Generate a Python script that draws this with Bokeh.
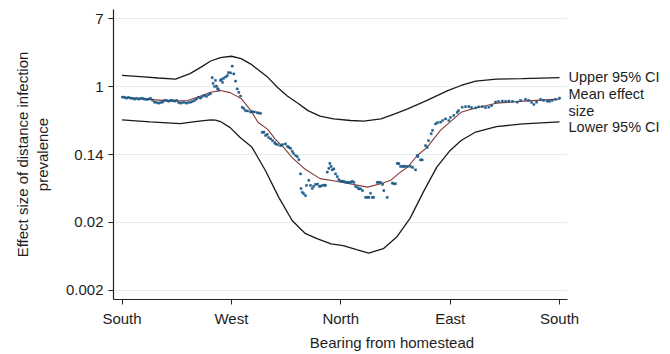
from bokeh.plotting import figure
from bokeh.models import Range1d, FixedTicker, Label
from bokeh.embed import file_html
from bokeh.resources import INLINE

# Bearing from homestead in degrees (0 = South, 90 = West, 180 = North, 270 = East, 360 = South)
bearing_ticks = [0, 90, 180, 270, 360]
bearing_labels = ["South", "West", "North", "East", "South"]

# y axis: natural log of effect size; tick labels show exp(value)
log_ticks = [-6, -4, -2, 0, 2]
log_labels = ["0.002", "0.02", "0.14", "1", "7"]

# Upper 95% CI (log effect size)
upper_bearing = [0, 15, 30, 44, 56, 65, 73, 81, 90, 98, 106, 112, 120, 128, 136, 145, 153,
                 163, 174, 188, 199, 213, 224, 235, 251, 268, 279, 291, 308, 329, 360]
upper_log = [0.33, 0.29, 0.25, 0.22, 0.38, 0.57, 0.75, 0.85, 0.89, 0.82, 0.66, 0.49, 0.27,
             -0.03, -0.28, -0.50, -0.71, -0.87, -0.95, -1.00, -1.02, -0.95, -0.81, -0.66,
             -0.41, -0.12, 0.03, 0.16, 0.22, 0.23, 0.26]

# Mean effect size (log)
mean_bearing = [0, 19, 42, 54, 65, 73, 81, 89, 98, 106, 112, 120, 126, 133, 140, 147,
                151, 163, 174, 184, 202, 213, 221, 229, 235, 243, 251, 262, 279, 291,
                308, 330, 360]
mean_log = [-0.31, -0.37, -0.43, -0.41, -0.28, -0.17, -0.12, -0.18, -0.35, -0.71, -1.06,
            -1.26, -1.55, -1.79, -2.09, -2.32, -2.44, -2.71, -2.77, -2.84, -2.96, -2.86,
            -2.76, -2.52, -2.37, -2.03, -1.79, -1.29, -0.76, -0.63, -0.49, -0.43, -0.37]

# Lower 95% CI (log)
lower_bearing = [0, 23, 48, 60, 73, 77, 81, 89, 97, 107, 118, 129, 140, 147, 151, 161, 172,
                 182, 193, 203, 215, 226, 237, 248, 259, 270, 279, 291, 308, 330, 360]
lower_log = [-0.98, -1.04, -1.09, -1.03, -0.98, -0.99, -1.03, -1.21, -1.49, -1.79, -2.47,
             -3.26, -3.94, -4.19, -4.33, -4.48, -4.63, -4.68, -4.80, -4.90, -4.77, -4.43,
             -3.88, -3.10, -2.37, -1.88, -1.59, -1.34, -1.18, -1.10, -1.04]

# Observed effect sizes (log)
obs_bearing = [0.4, 2.1, 3.7, 5.3, 7.0, 8.6, 10.3, 11.9, 13.6, 15.2, 16.9, 18.5, 20.2, 21.8,
               23.5, 25.1, 26.7, 28.4, 30.0, 31.7, 33.3, 35.0, 36.6, 38.3, 39.9, 41.5, 43.2,
               44.8, 46.5, 48.1, 49.8, 51.4, 53.1, 54.7, 56.4, 58.0, 59.7, 61.3, 62.9, 64.6,
               66.2, 67.9, 69.5, 71.2, 72.8, 74.2, 74.9, 76.1, 76.9, 77.8, 78.6, 79.4, 81.0,
               81.9, 82.7, 83.5, 85.2, 86.6, 87.6, 89.3, 90.7, 92.0, 93.4, 94.8, 96.1, 97.5,
               98.9, 100.2, 101.6, 103.3, 105.7, 107.4, 109.0, 111.3, 112.3, 114.0, 115.4,
               116.7, 118.1, 119.5, 120.6, 122.3, 123.9, 125.6, 126.4, 128.0, 130.4, 132.1,
               134.5, 136.2, 137.3, 138.7, 140.1, 141.1, 142.8, 144.2, 145.5, 146.9, 147.3,
               148.3, 149.4, 151.0, 151.8, 153.7, 155.1, 156.5, 157.6, 159.2, 160.9, 162.5,
               163.3, 165.0, 166.6, 167.4, 168.9, 170.2, 171.0, 172.0, 173.0, 174.3, 175.7,
               177.1, 178.4, 179.8, 181.2, 182.3, 183.9, 185.3, 186.6, 188.0, 189.4, 190.8,
               192.2, 193.8, 194.9, 196.3, 197.9, 200.4, 201.8, 203.1, 204.5, 205.9, 207.0,
               210.0, 211.3, 212.7, 214.4, 215.4, 218.2, 222.4, 223.7, 225.1, 226.5, 227.8,
               229.2, 230.8, 231.9, 233.3, 234.9, 237.4, 239.1, 241.5, 242.9, 243.4, 245.6,
               247.0, 249.7, 251.1, 252.2, 254.4, 255.5, 258.0, 259.6, 262.1, 263.8, 266.2,
               268.9, 270.3, 273.0, 275.8, 276.9, 279.9, 282.7, 285.4, 287.6, 290.9, 293.4,
               296.4, 299.1, 301.8, 304.1, 307.3, 309.8, 312.9, 315.6, 318.3, 321.3, 325.2,
               327.9, 332.0, 334.5, 337.0, 338.9, 341.1, 344.4, 346.9, 349.9, 351.8, 354.0,
               356.7, 360.0]
obs_log = [-0.31, -0.32, -0.34, -0.32, -0.34, -0.35, -0.37, -0.35, -0.37, -0.35, -0.35, -0.37,
           -0.38, -0.37, -0.35, -0.40, -0.46, -0.47, -0.49, -0.47, -0.46, -0.41, -0.41, -0.43,
           -0.41, -0.41, -0.43, -0.41, -0.47, -0.49, -0.47, -0.47, -0.49, -0.47, -0.46, -0.44,
           -0.41, -0.37, -0.32, -0.34, -0.29, -0.26, -0.29, -0.24, -0.21, 0.26, 0.09, 0.00,
           0.18, 0.01, -0.06, -0.09, 0.18, 0.21, 0.12, 0.24, 0.28, 0.32, 0.41, 0.40, 0.60,
           0.37, 0.16, -0.07, -0.17, -0.28, -0.61, -0.65, -0.71, -0.72, -0.75, -0.74, -0.75,
           -0.77, -0.78, -0.79, -1.35, -1.34, -1.44, -1.41, -1.50, -1.54, -1.59, -1.65, -1.69,
           -1.71, -1.74, -1.71, -1.69, -1.76, -1.79, -1.82, -1.91, -1.97, -2.03, -2.06, -2.15,
           -2.57, -3.00, -3.11, -3.15, -3.21, -2.91, -2.76, -2.91, -3.00, -2.94, -2.88, -2.87,
           -2.94, -2.93, -2.91, -2.90, -2.91, -2.52, -2.41, -2.26, -2.35, -2.45, -2.42, -2.57,
           -2.65, -2.74, -2.78, -2.79, -2.79, -2.81, -2.82, -2.82, -2.82, -2.79, -2.82, -2.94,
           -2.97, -3.01, -3.01, -3.06, -3.26, -3.26, -3.26, -3.14, -3.26, -3.26, -2.82, -2.82,
           -2.82, -2.88, -3.06, -3.26, -2.84, -2.86, -2.86, -2.26, -2.27, -2.35, -2.35, -2.35,
           -2.35, -2.35, -2.35, -2.38, -2.45, -2.03, -2.06, -2.16, -2.16, -1.74, -1.79, -1.59,
           -1.39, -1.29, -1.10, -1.06, -1.05, -1.00, -0.95, -1.00, -0.91, -0.85, -0.76, -0.71,
           -0.61, -0.59, -0.59, -0.62, -0.63, -0.60, -0.59, -0.62, -0.61, -0.56, -0.46, -0.44,
           -0.43, -0.44, -0.43, -0.44, -0.46, -0.41, -0.38, -0.41, -0.47, -0.53, -0.46, -0.38,
           -0.41, -0.43, -0.44, -0.41, -0.38, -0.34]

FONT = "Liberation Sans"
TXT = "#1e1e1e"

X_START, X_AXIS_END, X_FRAME_END = -7.0, 366.6, 451.3
Y_START, Y_END = -6.265, 2.265

p = figure(width=670, height=354,
           x_range=Range1d(X_START, X_FRAME_END), y_range=Range1d(Y_START, Y_END),
           output_backend="svg", toolbar_location=None,
           min_border_left=113, min_border_right=0,
           min_border_top=9, min_border_bottom=55)
p.outline_line_color = None
p.background_fill_color = "white"
p.border_fill_color = "white"
p.xgrid.grid_line_color = None
p.ygrid.grid_line_color = None

# horizontal grid lines at the y ticks, spanning the axis extent
p.segment(x0=[X_START] * len(log_ticks), y0=log_ticks,
          x1=[X_AXIS_END] * len(log_ticks), y1=log_ticks,
          line_color="#e4efef", line_width=1)

p.xaxis.ticker = FixedTicker(ticks=bearing_ticks)
p.xaxis.major_label_overrides = dict(zip(bearing_ticks, bearing_labels))
p.xaxis.bounds = (X_START, X_AXIS_END)
p.yaxis.ticker = FixedTicker(ticks=log_ticks)
p.yaxis.major_label_overrides = dict(zip(log_ticks, log_labels))

for ax in (p.xaxis, p.yaxis):
    ax.minor_tick_line_color = None
    ax.major_tick_out = 5
    ax.major_tick_in = 0
    ax.axis_line_color = "#222222"
    ax.axis_line_width = 1.2
    ax.major_tick_line_color = "#222222"
    ax.major_label_text_font = FONT
    ax.major_label_text_font_size = "15px"
    ax.major_label_text_color = TXT
    ax.axis_label_text_font = FONT
    ax.axis_label_text_font_size = "15px"
    ax.axis_label_text_font_style = "normal"
    ax.axis_label_text_color = TXT

p.xaxis.axis_label = "Bearing from homestead"
p.xaxis.major_label_standoff = 5
p.xaxis.axis_label_standoff = 4
p.yaxis.axis_label = "Effect size of distance infection\nprevalence"
p.yaxis.major_label_standoff = 5
p.yaxis.axis_label_standoff = 12

p.line(upper_bearing, upper_log, line_color="#1a1a1a", line_width=1.3)
p.line(lower_bearing, lower_log, line_color="#1a1a1a", line_width=1.3)
p.line(mean_bearing, mean_log, line_color="#843a38", line_width=1.1)
p.scatter(obs_bearing, obs_log, marker="square", size=2.2,
          fill_color="#1d5b88", line_color="#1d5b88", line_width=0.3)

labels = [("Upper 95% CI", 0.29), ("Mean effect", -0.215), ("size", -0.735),
          ("Lower 95% CI", -1.18)]
for txt, yv in labels:
    p.add_layout(Label(x=X_AXIS_END + 0.8, y=yv, text=txt, text_align="left",
                       text_baseline="middle", text_font=FONT,
                       text_font_size="14.5px", text_color=TXT))

open("out.html", "w").write(file_html(p, INLINE))
